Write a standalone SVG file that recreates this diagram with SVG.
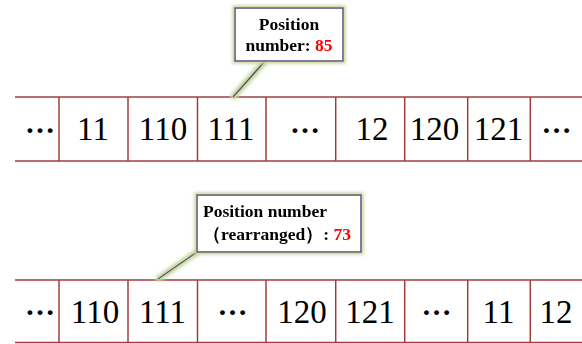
<svg xmlns="http://www.w3.org/2000/svg" width="582" height="344" viewBox="0 0 582 344">
  <defs>
    <filter id="glow" x="-20%" y="-30%" width="140%" height="160%">
      <feMorphology in="SourceAlpha" operator="dilate" radius="2" result="fat"/>
      <feGaussianBlur in="fat" stdDeviation="1.6" result="soft"/>
      <feFlood flood-color="#c8d9a0"/>
      <feComposite in2="soft" operator="in" result="halo"/>
      <feMerge>
        <feMergeNode in="halo"/>
        <feMergeNode in="SourceGraphic"/>
      </feMerge>
    </filter>
  </defs>
  <style>
    .grid { stroke: #9e3f3b; stroke-width: 1.5; fill: none; }
    .cell { font-family: "Liberation Serif", "Times New Roman", serif; font-size: 33px; fill: #000; text-anchor: middle; }
    .dots { font-family: "Liberation Serif", "Times New Roman", serif; font-size: 30px; font-weight: bold; fill: #000; text-anchor: middle; }
    .box { fill: #fff; stroke: #5b4a7c; stroke-width: 1.5; }
    .lead { stroke: #5b4a7c; stroke-width: 1.5; fill: none; }
    .lbl { font-family: "Liberation Serif", "Times New Roman", serif; font-size: 17.5px; font-weight: bold; fill: #000; }
    .num { fill: #ff0000; }
  </style>

  <rect width="582" height="344" fill="#fff"/>

  <!-- upper tape -->
  <g id="tape-original">
    <g class="grid">
      <line x1="15" y1="97" x2="582" y2="97"/>
      <line x1="15" y1="161" x2="582" y2="161"/>
      <line x1="59" y1="97" x2="59" y2="161"/>
      <line x1="128" y1="97" x2="128" y2="161"/>
      <line x1="197.5" y1="97" x2="197.5" y2="161"/>
      <line x1="266" y1="97" x2="266" y2="161"/>
      <line x1="335.7" y1="97" x2="335.7" y2="161"/>
      <line x1="404.7" y1="97" x2="404.7" y2="161"/>
      <line x1="467.7" y1="97" x2="467.7" y2="161"/>
      <line x1="530.3" y1="97" x2="530.3" y2="161"/>
    </g>
    <text class="dots" x="40" y="133">…</text>
    <text class="cell" x="93" y="140">11</text>
    <text class="cell" x="163" y="140">110</text>
    <text class="cell" x="231" y="140">111</text>
    <text class="dots" x="305" y="133">…</text>
    <text class="cell" x="372" y="140">12</text>
    <text class="cell" x="434.5" y="140">120</text>
    <text class="cell" x="498.5" y="140">121</text>
    <text class="dots" x="556.5" y="133">…</text>
  </g>

  <!-- lower tape -->
  <g id="tape-rearranged">
    <g class="grid">
      <line x1="15" y1="280" x2="582" y2="280"/>
      <line x1="15" y1="342.5" x2="582" y2="342.5"/>
      <line x1="59" y1="280" x2="59" y2="342.5"/>
      <line x1="128" y1="280" x2="128" y2="342.5"/>
      <line x1="197.5" y1="280" x2="197.5" y2="342.5"/>
      <line x1="266" y1="280" x2="266" y2="342.5"/>
      <line x1="335.7" y1="280" x2="335.7" y2="342.5"/>
      <line x1="404.7" y1="280" x2="404.7" y2="342.5"/>
      <line x1="467.7" y1="280" x2="467.7" y2="342.5"/>
      <line x1="530.3" y1="280" x2="530.3" y2="342.5"/>
    </g>
    <text class="dots" x="40" y="315">…</text>
    <text class="cell" x="95" y="323">110</text>
    <text class="cell" x="162.5" y="323">111</text>
    <text class="dots" x="232.5" y="315">…</text>
    <text class="cell" x="302" y="323">120</text>
    <text class="cell" x="370" y="323">121</text>
    <text class="dots" x="436.5" y="315">…</text>
    <text class="cell" x="498.5" y="323">11</text>
    <text class="cell" x="556" y="323">12</text>
  </g>

  <!-- callout leaders -->
  <g id="connectors" filter="url(#glow)">
    <line class="lead" x1="265" y1="61" x2="233" y2="97"/>
    <line class="lead" x1="197" y1="252" x2="158" y2="279"/>
  </g>

  <g id="callout-original" filter="url(#glow)">
    <rect class="box" x="235" y="8" width="108" height="53"/>
    <text class="lbl" x="289" y="30" text-anchor="middle">Position</text>
    <text class="lbl" x="289" y="51" text-anchor="middle">number: <tspan class="num">85</tspan></text>
  </g>

  <g id="callout-rearranged" filter="url(#glow)">
    <rect class="box" x="197" y="195" width="164" height="57"/>
    <text class="lbl" x="203" y="217">Position number</text>
    <text class="lbl" x="203" y="240">（rearranged）: <tspan class="num">73</tspan></text>
  </g>
</svg>
